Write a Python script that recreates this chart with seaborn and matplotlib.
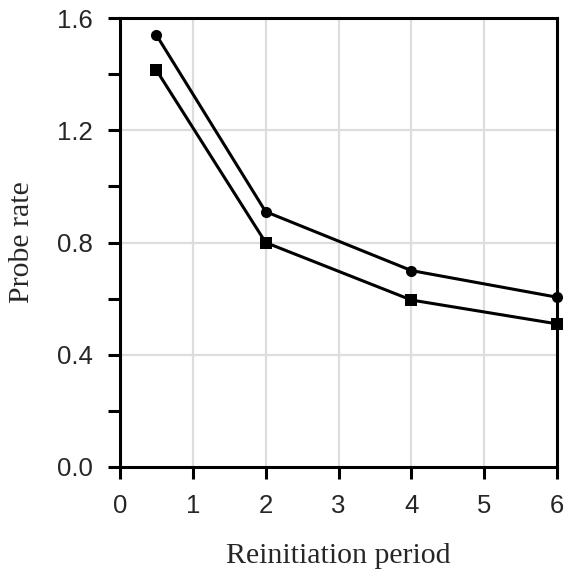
import matplotlib
matplotlib.use("Agg")
import matplotlib.pyplot as plt
import seaborn as sns
import pandas as pd
from matplotlib.ticker import MultipleLocator

periods = [0.5, 2, 4, 6]
circle_vals = [1.54, 0.91, 0.70, 0.605]
square_vals = [1.415, 0.80, 0.595, 0.51]
xticks = [0, 1, 2, 3, 4, 5, 6]
yticks = [0.0, 0.4, 0.8, 1.2, 1.6]

df = pd.DataFrame({
    "period": periods * 2,
    "rate": circle_vals + square_vals,
    "series": ["circle"] * len(periods) + ["square"] * len(periods),
})

sns.set_style("white")
plt.rcParams['font.family'] = ['Liberation Sans', 'DejaVu Sans']

fig = plt.figure(figsize=(5.68, 5.73), dpi=100)
ax = fig.add_axes([0.211, 0.185, 0.770, 0.7835])

sns.lineplot(data=df, x="period", y="rate", style="series", hue="series",
             palette={"circle": "black", "square": "black"},
             markers={"circle": "o", "square": "s"}, dashes=False,
             markersize=8, linewidth=2.2, markeredgewidth=0,
             legend=False, ax=ax, clip_on=False, zorder=5)

ax.set_xlim(0, 6)
ax.set_ylim(0, 1.6)
ax.set_xticks(xticks)
ax.set_yticks(yticks)
ax.set_xticklabels([str(t) for t in xticks])
ax.set_yticklabels([f"{t:.1f}" for t in yticks])
ax.yaxis.set_minor_locator(MultipleLocator(0.2))

ax.grid(False)
for xv in xticks[1:-1]:
    ax.axvline(xv, color="#dddddd", lw=1.6, zorder=0)
for yv in yticks[1:-1]:
    ax.axhline(yv, color="#dddddd", lw=1.6, zorder=0)

for s in ax.spines.values():
    s.set_color("black")
    s.set_linewidth(2.2)
ax.tick_params(axis="both", which="both", direction="out", length=8.5, width=2.2,
               color="black", labelsize=18.5, pad=11,
               bottom=True, left=True, top=False, right=False)
ax.tick_params(axis="x", which="minor", bottom=False)

ax.set_xlabel("Reinitiation period", family=['Liberation Serif'], fontsize=21.5, labelpad=18)
ax.set_ylabel("Probe rate", family=['Liberation Serif'], fontsize=21.5, labelpad=16)

fig.savefig("out.png", dpi=100)
